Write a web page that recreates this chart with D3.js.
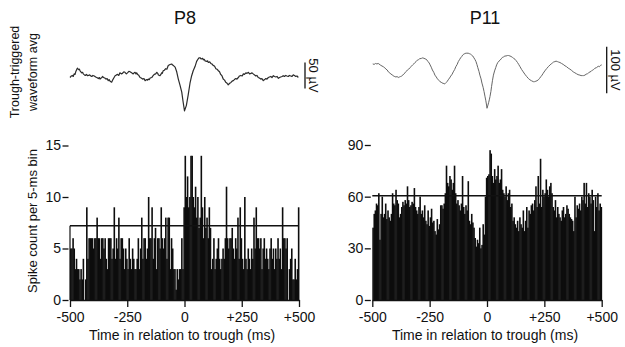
<!DOCTYPE html>
<html>
<head>
<meta charset="utf-8">
<script src="https://cdn.jsdelivr.net/npm/d3@7"></script>
<style>
  body { margin: 0; background: #fff; }
  svg { display: block; font-family: "Liberation Sans", Arial, Helvetica, sans-serif; }
  .tick line, .domain { stroke: #111; stroke-width: 1.3; }
  .tick text { fill: #111; font-size: 14px; }
</style>
</head>
<body>
<svg width="625" height="347"></svg>
<script>
// spike counts per 5-ms bin, -500 .. +500 ms (200 bins)
const p8Counts = [
  5,5,6,5,3,4,3,3,2,3,
  2,4,0,2,9,4,6,6,6,6,
  5,6,6,8,6,6,4,6,6,5,
  6,4,3,6,6,6,4,5,9,4,
  6,5,8,4,6,6,5,3,5,4,
  3,6,4,3,5,4,3,3,4,6,
  3,5,8,4,6,6,4,5,10,6,
  6,9,4,6,7,3,6,6,5,9,
  6,5,6,8,4,8,8,3,6,5,
  3,3,1,3,2,3,3,6,3,9,
  14,10,12,9,10,14,14,10,9,11,
  8,10,7,8,14,9,6,10,7,8,
  6,9,7,3,4,6,3,4,5,6,
  4,3,4,5,4,6,11,6,5,6,
  6,7,5,4,6,5,8,4,9,6,
  4,3,10,4,3,5,4,3,5,4,
  8,5,9,6,6,5,6,3,5,6,
  4,5,4,3,5,6,4,5,3,5,
  4,6,4,5,3,9,6,6,5,6,
  0,3,4,5,2,2,4,2,3,9
];
const p11Counts = [
  42,50,52,56,55,62,35,50,60,48,
  50,56,47,52,48,46,50,62,56,55,
  64,58,56,48,50,54,57,55,58,56,
  66,58,54,55,57,56,65,54,52,50,
  54,60,50,52,48,55,46,44,52,43,
  48,53,45,46,40,38,47,41,44,55,
  55,53,56,62,78,68,66,72,70,64,
  68,78,62,56,58,55,52,56,72,54,
  50,55,52,69,46,44,50,45,42,36,
  31,35,33,42,30,32,44,38,60,71,
  72,73,87,85,72,68,76,70,72,78,
  68,70,76,64,62,60,66,58,62,64,
  54,56,46,48,44,42,46,40,48,44,
  42,52,40,46,54,42,52,50,55,56,
  52,58,66,54,72,56,82,54,64,60,
  62,70,64,60,66,68,62,54,52,58,
  48,54,50,48,46,52,54,48,50,55,
  53,50,48,47,46,40,60,48,55,53,
  56,52,60,58,68,56,68,54,62,60,
  56,64,58,40,60,54,62,52,56,54
];
const p8Mean = 7.2;
const p11Mean = 60.5;

// trough-triggered waveform average: [ms, µV]
const p8Wave = [
  [-500,-1],[-494,2],[-490,3],[-486,1],[-482,6],[-478,5],[-475,10],[-468,17],[-462,14],[-459,15],
  [-456,12],[-449,8],[-445,9],[-442,6],[-437,4],[-433,3],[-428,5],[-424,2.5],[-419,3],[-414,4],
  [-409,2],[-405,1],[-400,3],[-394,2],[-388,0],[-383,-1],[-376,-3],[-372,-1],[-369,-4],[-364,-2],
  [-361,-1],[-357,1],[-354,-1],[-348,-2],[-343,-4],[-338,-3],[-333,-7],[-329,-5],[-325,-8],[-318,-10],
  [-314,-6],[-310,-3],[-303,2.5],[-297,4],[-292,5],[-287,3],[-282,8],[-276,6],[-271,7],[-265,10],
  [-260,9],[-254,6],[-249,8],[-243,11],[-238,10],[-231,8],[-224,6],[-220,8],[-216,9],[-212,6],
  [-209,8],[-205,5],[-201,4],[-194,-1],[-189,-2],[-183,-4],[-177,-3],[-172,-7],[-165,-5],[-161,-6],
  [-158,-4],[-154,-5],[-150,-2],[-143,-1],[-138,2],[-132,5],[-126,6],[-121,9],[-117,7],[-114,4],
  [-107,2.5],[-103,5],[-100,8],[-97,7],[-93,12],[-88,13],[-82,16],[-77,15],[-71,22],[-63,24],
  [-56,25],[-52,23],[-48,22],[-41,19],[-34,10],[-27,-4],[-20,-15],[-12,-29],[-6,-48],
  [0,-65],[8,-55],[16,-35],[24,-12],[31,2],[38,12],[46,20],[53,30],[60,35],[64,37],
  [68,37],[72,35],[75,35],[79,36],[82,33],[86,34],[90,31],[97,30],[101,31],[104,28],
  [110,29],[115,26],[120,25],[126,22],[131,21],[137,16],[142,15],[148,12],[153,10],[158,5],
  [164,2],[169,-4],[175,-6],[180,-10],[186,-12],[191,-15],[197,-12],[202,-11],[208,-8],[213,-7],
  [218,-5],[224,-3],[229,-4],[235,-1],[240,2],[246,3],[252,2],[257,6],[262,5],[268,8],
  [273,7],[279,9],[284,6],[290,7],[295,8],[300,6],[306,4],[311,2],[316,3],[322,-1],
  [327,-2],[333,-4],[338,-3],[344,-7],[350,-5],[355,-3],[360,-4],[366,-1],[371,0],[377,1],
  [382,-1],[388,2.5],[393,1],[399,0],[404,1],[410,-2.5],[415,-1],[420,0],[426,1],[431,2.5],
  [436,1],[442,3],[447,2],[453,1],[458,3],[464,2],[469,1],[475,4],[480,3],[486,1],[491,2],[497,-1]
];
const p11Wave = [
  [-498,13],[-492,12],[-486,14],[-480,13],[-474,14],[-463,10],[-452,7],[-446,5],[-441,2],[-435,0],
  [-430,-4],[-424,-6],[-419,-9],[-413,-10],[-408,-13],[-402,-14],[-397,-15],[-392,-14],[-387,-16],[-382,-15],
  [-377,-14],[-372,-13],[-367,-11],[-362,-8],[-357,-6],[-352,-3],[-347,0],[-341,2],[-335,5],[-330,8],
  [-324,11],[-319,13],[-314,16],[-309,18],[-304,21],[-299,22],[-294,24],[-285,25],[-280,26],[-275,25],
  [-270,24],[-266,23],[-261,21],[-257,18],[-252,15],[-248,11],[-243,6],[-238,0],[-232,-5],[-227,-11],
  [-221,-15],[-216,-19],[-210,-22],[-205,-25],[-200,-26],[-196,-28],[-191,-28],[-187,-30],[-182,-29],[-178,-27],
  [-173,-24],[-169,-21],[-163,-17],[-158,-13],[-152,-9],[-147,-4],[-141,1],[-136,7],[-130,12],[-125,18],
  [-120,22],[-115,26],[-110,29],[-106,32],[-101,34],[-97,35],[-92,36],[-88,36],[-82,36],[-77,35],
  [-72,34],[-67,32],[-62,30],[-57,26],[-52,22],[-48,18],[-44,12],[-40,5],[-35,-3],[-31,-11],
  [-26,-19],[-22,-28],[-17,-37],[-13,-46],[-9,-56],[-5,-66],[-2,-75],[0,-82],[3,-77],[7,-70],
  [10,-64],[13,-57],[17,-46],[20,-35],[24,-22],[28,-11],[33,-2],[38,5],[42,11],[47,16],
  [52,19],[57,21],[62,24],[67,27],[72,28],[78,30],[83,30],[89,31],[94,31],[100,30],
  [105,29],[111,27],[116,25],[122,23],[127,20],[133,16],[138,12],[144,7],[151,1],[158,-4],
  [165,-9],[173,-14],[180,-18],[187,-21],[194,-23],[202,-25],[207,-25],[213,-24],[218,-23],[224,-21],
  [229,-18],[235,-14],[240,-11],[245,-7],[252,-2],[260,3],[267,7],[275,11],[280,13],[285,15],
  [290,17],[296,18],[301,19],[307,18],[312,17],[318,16],[325,14],[332,12],[340,9],[347,7],
  [354,4],[361,2],[369,-1],[376,-4],[383,-6],[390,-8],[397,-10],[405,-11],[410,-12],[416,-12],
  [421,-12],[427,-11],[432,-9],[438,-8],[443,-6],[449,-4],[454,-3],[460,0],[465,1],[471,4],
  [477,5],[485,8],[490,7],[495,10],[500,11]
];

const xTicks = [-500, -250, 0, 250, 500];
const binWidth = 5;

const svg = d3.select("svg");

const panels = [
  { title: "P8", counts: p8Counts, mean: p8Mean, yMax: 15, yTicks: [0, 5, 10, 15],
    wave: p8Wave, waveBase: 77, pxPerUV: 0.52, waveColor: "#2b2b2b", waveWidth: 1.2,
    bar: [-22, 28], barLabel: "50 µV", barFont: 13, barX: 305, barTextX: 313,
    left: 70, right: 299, yTop: 145.5, titleX: 185, axisTitleX: 182, leftEdge: true },
  { title: "P11", counts: p11Counts, mean: p11Mean, yMax: 90, yTicks: [0, 30, 60, 90],
    wave: p11Wave, waveBase: 70, pxPerUV: 0.467, waveColor: "#666", waveWidth: 1.0,
    bar: [-50, 50], barLabel: "100 µV", barFont: 13, barX: 606.7, barTextX: 615,
    left: 372.3, right: 601.7, yTop: 145, titleX: 485, axisTitleX: 485, leftEdge: false }
];

panels.forEach(function(p) {
  const g = svg.append("g");

  const x = d3.scaleLinear().domain([-500, 500]).range([p.left, p.right]);
  const y = d3.scaleLinear().domain([0, p.yMax]).range([300, p.yTop]);
  const yW = d3.scaleLinear().domain([0, 1]).range([p.waveBase, p.waveBase - p.pxPerUV]);

  // title
  g.append("text")
    .attr("x", p.titleX).attr("y", 24)
    .attr("text-anchor", "middle")
    .style("font-size", "18px").attr("fill", "#111")
    .text(p.title);

  // waveform
  const line = d3.line()
    .x(function(d) { return x(d[0]); })
    .y(function(d) { return yW(d[1]); });
  g.append("path")
    .datum(p.wave)
    .attr("d", line)
    .attr("fill", "none")
    .attr("stroke", p.waveColor)
    .attr("stroke-width", p.waveWidth)
    .attr("stroke-linejoin", "round");

  // scale bar
  g.append("line")
    .attr("x1", p.barX).attr("x2", p.barX)
    .attr("y1", yW(p.bar[0])).attr("y2", yW(p.bar[1]))
    .attr("stroke", "#111").attr("stroke-width", 1.3);
  g.append("text")
    .attr("transform", "translate(" + p.barTextX + "," + yW((p.bar[0] + p.bar[1]) / 2) + ") rotate(90)")
    .attr("text-anchor", "middle")
    .attr("dominant-baseline", "central")
    .style("font-size", p.barFont + "px").attr("fill", "#111")
    .text(p.barLabel);

  // histogram (slight overlap so neighbouring bins merge into solid black)
  const bw = x(binWidth) - x(0);
  g.selectAll(".bar")
    .data(p.counts)
    .join("rect")
    .attr("class", "bar")
    .attr("x", function(d, i) { return x(-500 + i * binWidth); })
    .attr("width", bw + 0.45)
    .attr("y", function(d) { return y(d); })
    .attr("height", function(d) { return y(0) - y(d); })
    .attr("fill", "#0d0d0d");

  // mean line
  g.append("line")
    .attr("x1", x(-500)).attr("x2", x(500))
    .attr("y1", y(p.mean)).attr("y2", y(p.mean))
    .attr("stroke", "#111").attr("stroke-width", 1.5);
  if (p.leftEdge) {
    g.append("line")
      .attr("x1", x(-500)).attr("x2", x(-500))
      .attr("y1", y(0)).attr("y2", y(p.mean))
      .attr("stroke", "#111").attr("stroke-width", 1.2);
  }

  // axes
  g.append("g")
    .attr("transform", "translate(" + (p.left - 1.5) + ",0)")
    .call(d3.axisLeft(y).tickValues(p.yTicks).tickSize(6).tickPadding(1.5).tickFormat(String))
    .call(function(a) { a.select(".domain").remove(); });

  g.append("g")
    .attr("transform", "translate(0,300)")
    .call(d3.axisBottom(x).tickValues(xTicks).tickSize(7).tickSizeOuter(0).tickPadding(5)
      .tickFormat(function(d) { return d > 0 ? "+" + d : String(d); }));

  g.append("text")
    .attr("x", p.axisTitleX).attr("y", 340)
    .attr("text-anchor", "middle")
    .style("font-size", "14px").attr("fill", "#111")
    .text("Time in relation to trough (ms)");
});

// y labels
svg.append("text")
  .attr("transform", "translate(32,221) rotate(-90)")
  .attr("text-anchor", "middle").attr("dominant-baseline", "central")
  .style("font-size", "13px").attr("fill", "#111")
  .text("Spike count per 5-ms bin");

svg.append("text")
  .attr("transform", "translate(15,72) rotate(-90)")
  .attr("text-anchor", "middle").attr("dominant-baseline", "central")
  .style("font-size", "12.5px").attr("fill", "#111")
  .text("Trough-triggered");
svg.append("text")
  .attr("transform", "translate(33,72) rotate(-90)")
  .attr("text-anchor", "middle").attr("dominant-baseline", "central")
  .style("font-size", "12.5px").attr("fill", "#111")
  .text("waveform avg");
</script>
</body>
</html>
